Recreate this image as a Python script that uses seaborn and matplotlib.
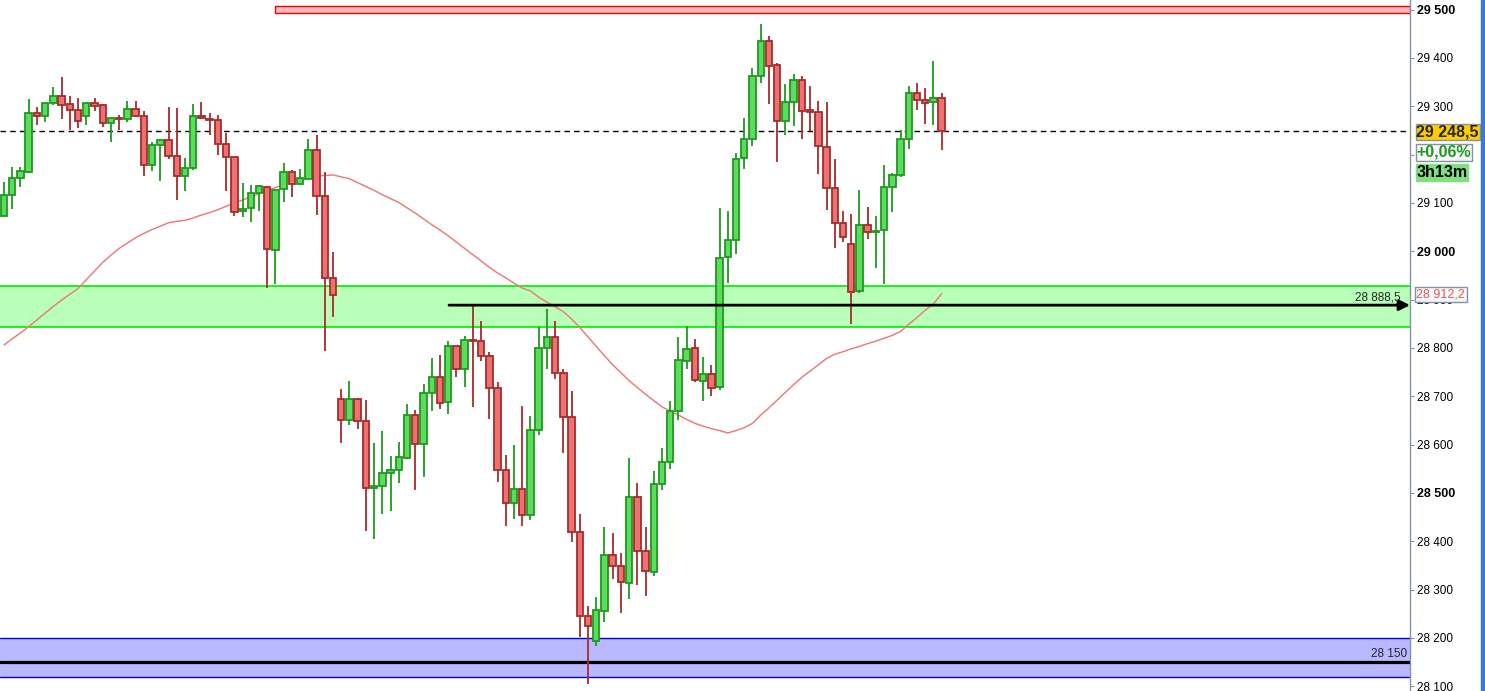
import numpy as np
import pandas as pd
import matplotlib
matplotlib.use("Agg")
import matplotlib.pyplot as plt
from matplotlib.patches import Rectangle
import seaborn as sns

# OHLC, one row per candle
opens = [29074, 29116, 29151, 29165, 29286, 29279, 29306, 29321, 29304, 29292,
         29279, 29306, 29302, 29265, 29275, 29273, 29294, 29279, 29178, 29219,
         29230, 29197, 29155, 29172, 29279, 29273, 29271, 29221, 29195, 29083,
         29089, 29120, 29133, 29002, 29128, 29164, 29139, 29149, 29209, 29114,
         28944, 28694, 28650, 28694, 28648, 28510, 28514, 28541, 28547, 28572,
         28661, 28601, 28706, 28739, 28688, 28803, 28756, 28816, 28814, 28783,
         28717, 28547, 28479, 28508, 28454, 28630, 28799, 28822, 28748, 28657,
         28419, 28245, 28193, 28255, 28371, 28348, 28313, 28491, 28379, 28337,
         28518, 28564, 28669, 28773, 28799, 28732, 28745, 28720, 28988, 29023,
         29192, 29232, 29362, 29435, 29385, 29269, 29308, 29354, 29292, 29288,
         29215, 29130, 29058, 29015, 28917, 29054, 29039, 29044, 29132, 29157,
         29232, 29327, 29313, 29308, 29317]
highs = [29143, 29174, 29174, 29315, 29299, 29306, 29339, 29361, 29321, 29317,
         29306, 29317, 29304, 29275, 29281, 29310, 29312, 29290, 29226, 29230,
         29299, 29297, 29192, 29305, 29309, 29286, 29282, 29245, 29195, 29141,
         29137, 29137, 29135, 29126, 29182, 29168, 29170, 29232, 29240, 29164,
         28998, 28715, 28732, 28696, 28692, 28603, 28628, 28576, 28605, 28683,
         28671, 28725, 28779, 28785, 28814, 28803, 28824, 28888.5, 28855, 28791,
         28729, 28578, 28599, 28679, 28659, 28843, 28880, 28855, 28756, 28710,
         28456, 28266, 28284, 28429, 28417, 28375, 28572, 28520, 28429, 28545,
         28593, 28690, 28823, 28846, 28819, 28781, 28764, 29089, 29083, 29203,
         29275, 29379, 29470, 29445, 29389, 29346, 29366, 29362, 29341, 29310,
         29308, 29190, 29083, 29077, 29126, 29091, 29072, 29178, 29161, 29250,
         29343, 29348, 29337, 29393, 29327]
lows = [29074, 29088, 29132, 29161, 29262, 29268, 29302, 29274, 29252, 29256,
        29261, 29290, 29258, 29227, 29252, 29267, 29277, 29156, 29167, 29146,
        29190, 29107, 29125, 29169, 29273, 29240, 29199, 29125, 29072, 29070,
        29061, 29084, 28923, 28933, 29101, 29113, 29139, 29149, 29076, 28794,
        28865, 28604, 28640, 28632, 28422, 28404, 28456, 28462, 28521, 28570,
        28505, 28532, 28669, 28673, 28663, 28739, 28719, 28677, 28772, 28652,
        28523, 28432, 28445, 28432, 28443, 28619, 28757, 28735, 28583, 28399,
        28201, 28104, 28183, 28232, 28321, 28251, 28280, 28309, 28286, 28329,
        28506, 28549, 28650, 28757, 28730, 28691, 28701, 28712, 28935, 28994,
        29170, 29217, 29348, 29304, 29184, 29240, 29259, 29232, 29248, 29159,
        29085, 29006, 29019, 28850, 28913, 29025, 28966, 28932, 29081, 29153,
        29211, 29292, 29263, 29261, 29209]
closes = [29116, 29151, 29166, 29286, 29279, 29306, 29321, 29302, 29292, 29269,
          29306, 29300, 29265, 29275, 29273, 29294, 29279, 29178, 29219, 29230,
          29197, 29155, 29172, 29279, 29275, 29271, 29221, 29195, 29081, 29087,
          29120, 29135, 29004, 29126, 29164, 29139, 29151, 29209, 29114, 28944,
          28909, 28650, 28694, 28648, 28510, 28514, 28541, 28547, 28574, 28661,
          28601, 28706, 28739, 28686, 28803, 28756, 28816, 28815, 28783, 28717,
          28547, 28479, 28508, 28454, 28630, 28799, 28822, 28748, 28657, 28419,
          28245, 28224, 28257, 28371, 28348, 28315, 28491, 28379, 28338, 28518,
          28564, 28669, 28775, 28797, 28734, 28745, 28718, 28986, 29023, 29190,
          29232, 29362, 29435, 29383, 29269, 29308, 29354, 29290, 29288, 29217,
          29130, 29058, 29029, 28915, 29054, 29039, 29041, 29132, 29157, 29232,
          29327, 29313, 29306, 29317, 29248.5]
# red moving average
ma = [28806, 28819, 28831, 28844, 28858, 28872, 28886, 28899, 28911, 28923,
      28941, 28959, 28977, 28992, 29006, 29017, 29028, 29037, 29045, 29052,
      29059, 29062, 29064, 29069, 29075, 29080, 29086, 29093, 29100, 29106,
      29113, 29119, 29125, 29132, 29138, 29143, 29148, 29153, 29155, 29157,
      29158, 29154, 29150, 29142, 29134, 29126, 29117, 29109, 29101, 29090,
      29079, 29067, 29055, 29044, 29032, 29019, 29006, 28993, 28980, 28967,
      28955, 28945, 28934, 28924, 28918, 28905, 28895, 28885, 28875, 28860,
      28842, 28823, 28803, 28784, 28765, 28749, 28732, 28718, 28704, 28691,
      28678, 28669, 28661, 28652, 28644, 28638, 28633, 28629, 28624, 28629,
      28635, 28644, 28661, 28676, 28692, 28708, 28724, 28739, 28752, 28765,
      28778, 28787, 28792, 28798, 28803, 28809, 28814, 28820, 28826, 28834,
      28849, 28863, 28878, 28891, 28912.2]

last_price = 29248.5
ma_last = 28912.2
support_level = 28888.5
low_level = 28150
green_zone = (28843, 28928)
blue_zone = (28120, 28200)
red_zone = (29493, 29508)
tick_vals = list(range(28100, 29600, 100))

df = pd.DataFrame({"open": opens, "high": highs, "low": lows, "close": closes, "ma": ma})
df["idx"] = np.arange(len(df))
up = df["close"] >= df["open"]

sns.set_style("white")
plt.rcParams['font.family'] = ['Liberation Sans', 'DejaVu Sans']

fig = plt.figure(figsize=(14.85, 6.91), dpi=100)
ax = fig.add_axes([0, 0, 1410 / 1485, 1])
xmin, xmax = -0.49, 170.94
ax.set_xlim(xmin, xmax)
ax.set_ylim(28090, 29520)

# zones
ax.axhspan(*green_zone, color="#b9ffb9", zorder=0, lw=0)
for v in green_zone:
    ax.axhline(v, color="#11ee11", lw=1.3, zorder=0.5)
ax.axhspan(*blue_zone, color="#b8b8ff", zorder=0, lw=0)
for v in blue_zone:
    ax.axhline(v, color="#0000e6", lw=1.0, zorder=0.5)
ax.add_patch(Rectangle((33.0, red_zone[0]), xmax - 33.0, red_zone[1] - red_zone[0],
                       fc="#ffb9b9", ec="#ee0000", lw=1.0, zorder=0.5))

ax.axhline(last_price, color="black", ls=(0, (4, 3)), lw=1.0, zorder=1)
ax.axhline(low_level, color="black", lw=2.3, zorder=1)

# moving average
sns.lineplot(data=df, x="idx", y="ma", color="#e88080", lw=1.1, ax=ax, zorder=2)

# candles
green_edge, red_edge = "#1e9a1e", "#a82c2c"
for mask, face, edge in [(up, "#5cdc5c", green_edge), (~up, "#ec7272", red_edge)]:
    d = df[mask]
    ax.vlines(d["idx"], d["low"], d["high"], color=edge, lw=1.3, zorder=3)
    ax.bar(d["idx"], d["close"] - d["open"], bottom=d["open"], width=0.78,
           color=face, edgecolor=edge, linewidth=1.3, zorder=4)

# support arrow line
ax.annotate("", xy=(xmax, support_level), xytext=(54.1, support_level),
            arrowprops=dict(arrowstyle="-|>", color="black", lw=2.0,
                            mutation_scale=16, shrinkA=0, shrinkB=0),
            annotation_clip=False, zorder=5)
ax.text(169.8, support_level + 4, "28 888,5", ha="right", va="bottom", fontsize=8.5, zorder=6)
ax.text(170.6, low_level + 5, "28 150", ha="right", va="bottom", fontsize=8.5, zorder=6)

# right axis
ax.yaxis.tick_right()
ax.set_yticks(tick_vals)
ax.set_yticklabels([f"{v:,}".replace(",", " ") for v in tick_vals], fontsize=8.5)
for lab, v in zip(ax.get_yticklabels(), tick_vals):
    if v % 500 == 0:
        lab.set_fontweight("bold")
        lab.set_fontsize(9)
ax.tick_params(axis="y", direction="out", length=3, color="#8494a4", pad=2, labelcolor="black")
ax.set_xticks([])
ax.set_xlabel("")
ax.set_ylabel("")
for s in ["top", "left", "bottom"]:
    ax.spines[s].set_visible(False)
ax.spines["right"].set_color("#8494a4")
ax.spines["right"].set_linewidth(1.0)

tr = ax.get_yaxis_transform()
ax.text(1.0045, 29247, "29 248,5", transform=tr, ha="left", va="center", fontsize=11.5,
        fontweight="bold", zorder=10,
        bbox=dict(boxstyle="square,pad=0.05", fc="#ffcc00", ec="#8494a4", lw=1))
ax.text(1.0045, 29205, "+0,06%", transform=tr, ha="left", va="center", fontsize=11.5,
        fontweight="bold", color="#1e9a1e", zorder=10,
        bbox=dict(boxstyle="square,pad=0.05", fc="#f6f6f6", ec="#8494a4", lw=1))
ax.text(1.0045, 29163, "3h13m", transform=tr, ha="left", va="center", fontsize=11.5,
        fontweight="bold", color="black", zorder=10,
        bbox=dict(boxstyle="square,pad=0.05", fc="#80e080", ec="#80e080", lw=1))
ax.text(1.0045, ma_last - 1, "28 912,2", transform=tr, ha="left", va="center", fontsize=9,
        color="#e05a5a", zorder=10,
        bbox=dict(boxstyle="square,pad=0.12", fc="#f8f8f8", ec="#8494a4", lw=1))

fig.patches.append(Rectangle((1481 / 1485, 0), 4 / 1485, 1, transform=fig.transFigure,
                             color="#3c78d8", zorder=10))

fig.savefig("out.png", dpi=100)
